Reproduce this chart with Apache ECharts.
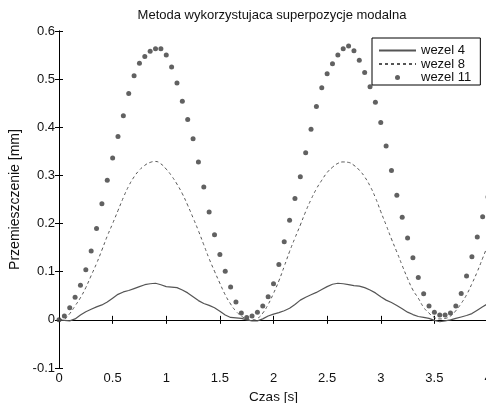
<!DOCTYPE html>
<html>
<head>
<meta charset="utf-8">
<script src="https://cdn.jsdelivr.net/npm/echarts@6/dist/echarts.min.js"></script>
<style>
html,body{margin:0;padding:0;background:#fff;}
#c{width:486px;height:403px;}
</style>
</head>
<body>
<div id="c"></div>
<script>
// Time samples [s]
var czas = [0,0.05,0.1,0.15,0.2,0.25,0.3,0.35,0.4,0.45,0.5,0.55,0.6,0.65,0.7,0.75,0.8,0.85,0.9,0.95,
  1,1.05,1.1,1.15,1.2,1.25,1.3,1.35,1.4,1.45,1.5,1.55,1.6,1.65,1.7,1.75,1.8,1.85,1.9,1.95,
  2,2.05,2.1,2.15,2.2,2.25,2.3,2.35,2.4,2.45,2.5,2.55,2.6,2.65,2.7,2.75,2.8,2.85,2.9,2.95,
  3,3.05,3.1,3.15,3.2,3.25,3.3,3.35,3.4,3.45,3.5,3.55,3.6,3.65,3.7,3.75,3.8,3.85,3.9,3.95,4];

var wezel4 = [0,-0.001,-0.002,0.002,0.010,0.017,0.022,0.027,0.031,0.037,0.045,0.053,0.058,0.061,0.065,0.069,0.073,0.075,0.076,0.073,
  0.069,0.068,0.067,0.062,0.056,0.048,0.040,0.034,0.030,0.025,0.018,0.010,0.005,0.004,0.003,0.000,-0.002,-0.002,0.002,0.008,
  0.012,0.015,0.019,0.024,0.032,0.041,0.047,0.052,0.057,0.063,0.069,0.074,0.076,0.075,0.073,0.071,0.070,0.067,0.062,0.056,
  0.048,0.041,0.036,0.030,0.023,0.016,0.011,0.007,0.005,0.003,-0.001,-0.004,-0.002,0.000,0.003,0.006,0.009,0.013,0.020,0.027,0.034];

var wezel8 = [0,0.002,0.013,0.029,0.046,0.067,0.092,0.117,0.145,0.174,0.200,0.227,0.254,0.278,0.297,0.311,0.321,0.327,0.329,0.324,
  0.313,0.299,0.282,0.262,0.238,0.212,0.185,0.156,0.127,0.101,0.076,0.052,0.033,0.018,0.008,0.002,0.000,0.003,0.014,0.032,
  0.055,0.081,0.111,0.142,0.170,0.197,0.225,0.250,0.272,0.290,0.306,0.317,0.325,0.328,0.327,0.321,0.311,0.297,0.278,0.254,
  0.225,0.197,0.168,0.141,0.113,0.086,0.062,0.045,0.026,0.014,0.005,0.002,0.003,0.008,0.019,0.034,0.052,0.075,0.100,0.128,0.156];

var wezel11 = [0,0.008,0.025,0.047,0.072,0.104,0.143,0.190,0.241,0.290,0.336,0.381,0.424,0.470,0.507,0.533,0.547,0.558,0.563,0.563,
  0.550,0.525,0.492,0.454,0.416,0.376,0.328,0.276,0.224,0.177,0.136,0.101,0.068,0.037,0.014,0.005,0.008,0.016,0.029,0.048,
  0.075,0.115,0.162,0.207,0.252,0.297,0.347,0.396,0.443,0.482,0.511,0.532,0.550,0.563,0.569,0.559,0.539,0.514,0.484,0.452,
  0.410,0.361,0.310,0.259,0.213,0.170,0.129,0.088,0.054,0.029,0.016,0.010,0.010,0.014,0.029,0.055,0.091,0.131,0.172,0.214,0.255];

var seriesNames = ['wezel 4','wezel 8','wezel 11'];
var tytul = 'Metoda wykorzystujaca superpozycje modalna';
var xLabel = 'Czas [s]';
var yLabel = 'Przemieszczenie [mm]';

function pairs(xs, ys){ return xs.map(function(x,i){ return [x, ys[i]]; }); }

var FONT = '"Liberation Sans", Arial, sans-serif';
var chart = echarts.init(document.getElementById('c'), null, {renderer:'canvas'});

var axisLine = {show:true, lineStyle:{color:'#000', width:1}};
var tickIn = {show:true, inside:true, length:4, lineStyle:{color:'#000', width:1}};

chart.setOption({
  animation:false,
  backgroundColor:'#fff',
  graphic:[{
    type:'text', x:272, y:9,
    style:{text:tytul, fill:'#111', font:'13px ' + FONT, textAlign:'center', textVerticalAlign:'top'}
  }],
  grid:{left:59, top:31, right:-2, bottom:35, containLabel:false, outerBoundsMode:'none'},
  legend:{
    orient:'vertical', left:372, top:38,
    padding:[6,9,1,6], itemGap:0.5, itemWidth:37, itemHeight:5,
    backgroundColor:'#fff', borderColor:'#000', borderWidth:1, borderRadius:0,
    textStyle:{fontFamily:FONT, fontSize:13, color:'#111', lineHeight:12},
    data:[
      {name:seriesNames[0], itemStyle:{opacity:0}},
      {name:seriesNames[1], itemStyle:{opacity:0}},
      {name:seriesNames[2], icon:'circle'}
    ]
  },
  xAxis:[{
    type:'value', min:0, max:4, interval:0.5, position:'bottom',
    name:xLabel, nameLocation:'middle', nameGap:21,
    nameTextStyle:{fontFamily:FONT, fontSize:13.5, color:'#111'},
    axisLine:axisLine, axisTick:tickIn, splitLine:{show:false},
    axisLabel:{fontFamily:FONT, fontSize:13, color:'#111', margin:4}
  },{
    type:'value', min:0, max:4, interval:0.5, position:'top',
    axisLine:axisLine, axisTick:tickIn, splitLine:{show:false}, axisLabel:{show:false}
  }],
  yAxis:[{
    type:'value', min:-0.1, max:0.6, interval:0.1, position:'left',
    name:yLabel, nameLocation:'middle', nameGap:36,
    nameTextStyle:{fontFamily:FONT, fontSize:14, color:'#111'},
    axisLine:axisLine, axisTick:tickIn, splitLine:{show:false},
    axisLabel:{fontFamily:FONT, fontSize:13, color:'#111', margin:4}
  },{
    type:'value', min:-0.1, max:0.6, interval:0.1, position:'right',
    axisLine:axisLine, axisTick:tickIn, splitLine:{show:false}, axisLabel:{show:false}
  }],
  series:[{
    name:seriesNames[0], type:'line', data:pairs(czas, wezel4),
    showSymbol:false, symbol:'none', smooth:false,
    lineStyle:{color:'#555', width:1.2, type:'solid'},
    itemStyle:{color:'#555'}
  },{
    name:seriesNames[1], type:'line', data:pairs(czas, wezel8),
    showSymbol:false, symbol:'none', smooth:true,
    lineStyle:{color:'#555', width:1, type:[3,3]},
    itemStyle:{color:'#555'}
  },{
    name:seriesNames[2], type:'scatter', data:pairs(czas, wezel11),
    symbol:'circle', symbolSize:5,
    itemStyle:{color:'#3a3a3a'}
  }]
});
</script>
</body>
</html>
